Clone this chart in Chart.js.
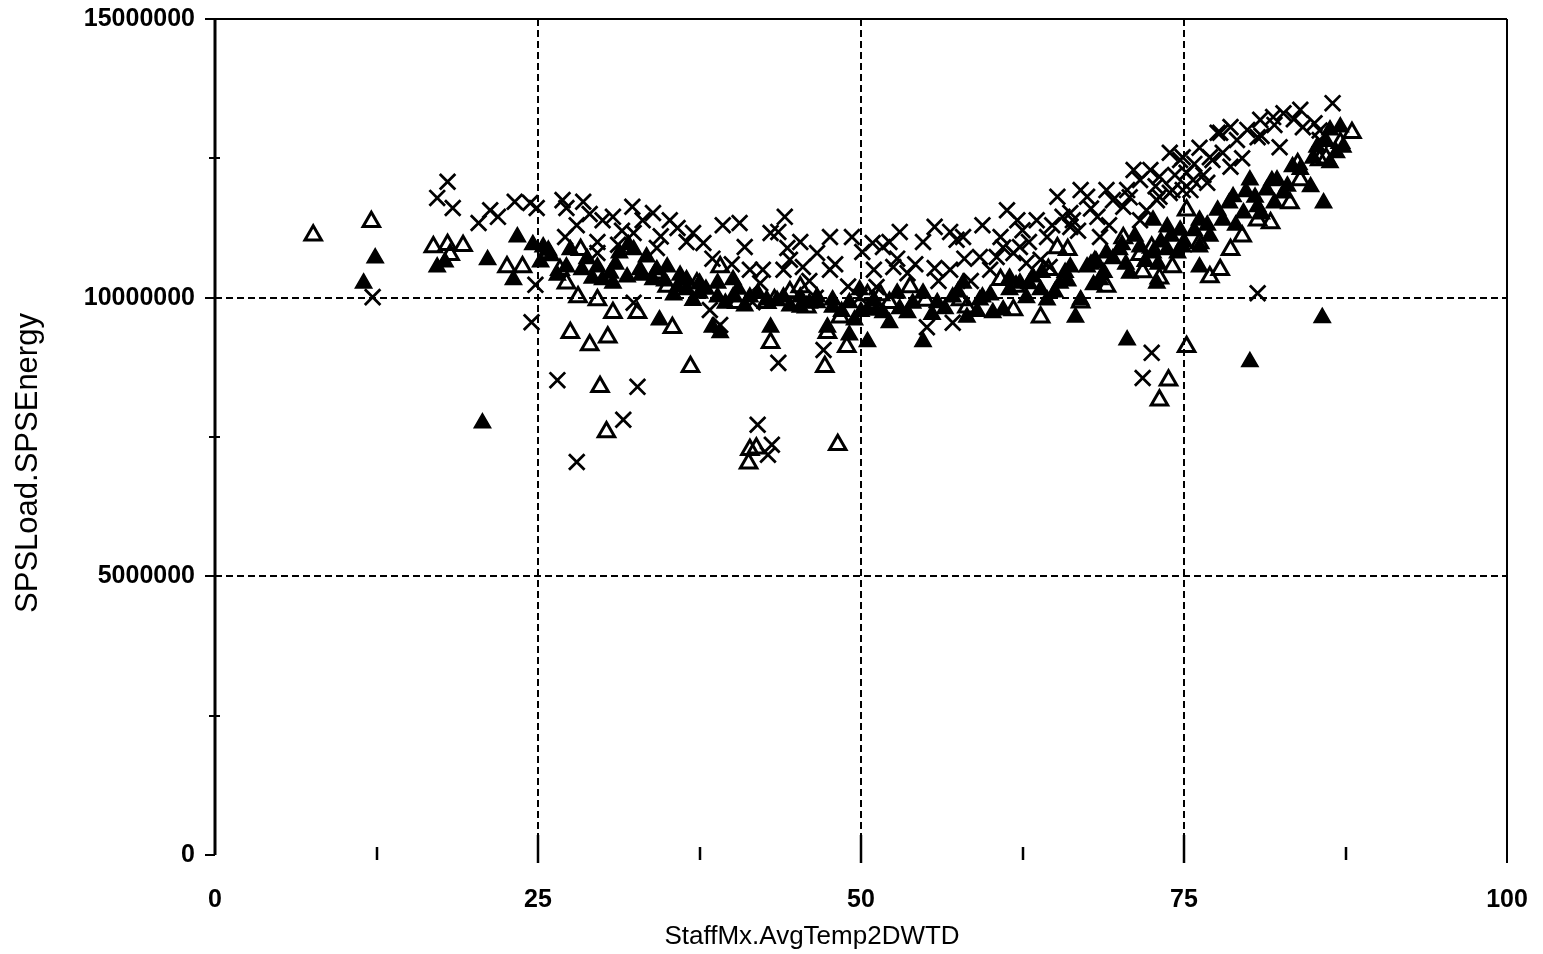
<!DOCTYPE html>
<html>
<head>
<meta charset="utf-8">
<script src="https://cdn.jsdelivr.net/npm/chart.js@4.4.0/dist/chart.umd.min.js"></script>
<style>
  html, body { margin: 0; padding: 0; background: #fff; }
  #wrap { width: 1543px; height: 954px; position: relative; }
</style>
</head>
<body>
<div id="wrap"><canvas id="scatterChart"></canvas></div>
<script>
// points (x = StaffMx.AvgTemp2DWTD, y = SPSLoad.SPSEnergy)

// open triangles
const openX = [7.6, 12.1, 16.9, 18.0, 18.2, 19.2, 22.6, 23.8, 26.7, 27.2, 27.5, 28.1, 28.3, 29.0, 29.6, 29.8, 30.3, 30.4, 30.8, 32.7,
    34.1, 35.4, 36.8, 37.3, 39.1, 40.4, 41.3, 41.4, 41.9, 42.7, 43.0, 43.3, 45.3, 45.8, 47.2, 47.4, 48.2, 48.4, 48.9, 51.5,
    52.2, 53.8, 57.7, 58.2, 60.8, 61.8, 63.9, 65.2, 66.0, 67.0, 68.1, 70.3, 71.6, 71.8, 73.1, 73.1, 73.8, 74.1, 75.2, 75.2,
    76.2, 77.0, 77.8, 78.6, 80.7, 81.7, 83.2, 84.0, 85.5, 87.1, 88.0,
    35.0, 44.5, 50.5, 55.0, 62.0, 64.5, 69.0, 72.5, 79.5, 83.8, 86.0];
const openY = [11120000, 11360000, 10910000, 10950000, 10770000, 10930000, 10550000, 10550000, 10500000, 10260000, 9370000, 10010000, 10860000, 9150000, 9960000, 8400000, 7590000, 9290000, 9730000, 9730000,
    10440000, 9460000, 8760000, 10260000, 10550000, 9910000, 7030000, 7270000, 7300000, 9910000, 9190000, 9960000, 10190000, 9830000, 8760000, 9370000, 7360000, 9650000, 9120000, 10050000,
    9910000, 10190000, 9960000, 9830000, 10320000, 9780000, 9650000, 10890000, 10860000, 9920000, 10640000, 11070000, 10770000, 10460000, 10350000, 8160000, 8520000, 10550000, 11570000, 9120000,
    10980000, 10370000, 10500000, 10860000, 11390000, 11340000, 11700000, 12110000, 12470000, 12780000, 12960000,
    10200000, 10100000, 10050000, 9950000, 10200000, 10500000, 10200000, 10900000, 11100000, 12400000, 12500000];

// filled triangles
const filledX = [11.5, 12.4, 17.2, 17.8, 20.7, 21.1, 23.1, 23.4, 25.4, 25.2, 27.2, 27.5, 28.4, 29.6, 30.0, 30.6, 30.8, 31.3, 31.9, 32.4,
    32.9, 33.4, 33.9, 34.2, 34.4, 35.0, 35.8, 36.5, 36.5, 37.5, 37.5, 38.5, 38.9, 38.9, 39.1, 40.1, 40.1, 41.4, 42.0, 42.7,
    43.0, 44.0, 45.3, 45.3, 46.6, 46.6, 47.4, 47.8, 47.8, 49.1, 49.1, 49.9, 50.5, 50.5, 51.2, 51.7, 52.2, 52.8, 53.6, 54.8,
    54.8, 55.9, 57.1, 57.9, 58.2, 59.2, 59.4, 60.2, 61.0, 61.5, 62.3, 63.3, 63.9, 64.4, 65.4, 66.2, 66.6, 67.0, 67.5, 68.0,
    68.5, 69.0, 70.0, 70.6, 70.8, 71.6, 72.6, 72.6, 72.9, 73.7, 73.7, 74.5, 74.7, 74.9, 76.2, 76.2, 76.2, 77.6, 78.0, 78.8,
    79.6, 80.1, 80.1, 80.7, 81.4, 82.2, 82.7, 83.4, 84.8, 85.3, 85.7, 85.8, 86.3, 86.3, 87.1, 87.3,
    26.0, 26.5, 28.8, 29.2, 31.0, 32.0, 33.0, 34.8, 35.5, 36.0, 37.0, 38.0, 39.5, 40.5, 41.0, 43.5, 44.5, 46.0, 48.5, 49.5,
    50.0, 51.0, 53.0, 54.0, 55.5, 56.5, 57.5, 59.0, 60.0, 61.5, 62.8, 64.0, 65.0, 66.0, 67.8, 68.8, 69.5, 70.5, 71.2, 72.0,
    73.2, 74.0, 75.0, 75.8, 77.0, 78.5, 79.0, 80.5, 81.0, 82.0, 83.0, 84.0, 85.0, 86.0, 86.8,
    24.6, 25.8, 63.0, 65.8, 68.2, 70.2, 73.0, 76.8, 79.8, 81.8];
const filledY = [10260000, 10710000, 10550000, 10640000, 7750000, 10680000, 10320000, 11090000, 10910000, 10640000, 10550000, 10860000, 10500000, 10550000, 10320000, 10440000, 10260000, 10800000, 10370000, 10860000,
    10500000, 10730000, 10320000, 10500000, 9600000, 10550000, 10190000, 10320000, 10140000, 10260000, 10080000, 9470000, 10260000, 10010000, 9370000, 10320000, 10010000, 10010000, 10080000, 9960000,
    9470000, 10010000, 10010000, 9830000, 10010000, 9910000, 9470000, 9960000, 9830000, 9910000, 9330000, 10140000, 9780000, 9210000, 9780000, 9730000, 9550000, 10080000, 9730000, 10080000,
    9210000, 9910000, 10010000, 10260000, 9650000, 9960000, 10010000, 9730000, 9780000, 10140000, 10260000, 10370000, 10140000, 9960000, 10260000, 10550000, 9650000, 9960000, 10550000, 10230000,
    10320000, 10800000, 10860000, 9240000, 10440000, 10910000, 11390000, 10800000, 10260000, 11270000, 10860000, 10800000, 11210000, 10910000, 11390000, 10910000, 10550000, 11570000, 11390000, 11810000,
    11520000, 12110000, 8850000, 11630000, 11930000, 12110000, 11880000, 12350000, 11990000, 12700000, 9640000, 11700000, 13010000, 12420000, 13060000, 12700000,
    10750000, 10400000, 10700000, 10350000, 10600000, 10950000, 10400000, 10300000, 10050000, 10400000, 9950000, 10150000, 9900000, 10150000, 9850000, 9950000, 9850000, 9900000, 9750000, 9600000,
    9750000, 9950000, 9800000, 9900000, 9700000, 9800000, 10100000, 9750000, 10050000, 10350000, 10000000, 10450000, 10100000, 10300000, 10600000, 10450000, 10700000, 10600000, 11100000, 10650000,
    11000000, 11100000, 11000000, 11200000, 11100000, 11700000, 11300000, 11800000, 11500000, 11700000, 12000000, 12300000, 12500000, 12800000, 12600000,
    10950000, 10850000, 10250000, 10450000, 10650000, 10950000, 10600000, 11300000, 11900000, 12100000];

// crosses
const crossX = [12.2, 17.2, 18.0, 18.4, 20.4, 21.3, 21.9, 23.2, 24.4, 24.9, 26.9, 27.2, 28.5, 27.1, 24.8, 24.5, 26.5, 28.0, 29.6, 29.6,
    30.0, 30.8, 31.2, 31.6, 32.3, 32.4, 32.4, 32.7, 33.1, 33.9, 34.2, 35.2, 35.8, 37.0, 37.8, 38.3, 39.1, 39.3, 40.6, 41.0,
    41.4, 41.6, 42.0, 42.2, 42.4, 42.8, 43.0, 43.1, 43.6, 43.6, 44.1, 44.3, 44.5, 45.3, 45.5, 46.6, 47.1, 47.6, 47.6, 49.3,
    49.9, 50.1, 50.9, 51.2, 51.7, 52.2, 52.5, 53.0, 53.6, 54.8, 55.1, 55.7, 55.7, 56.9, 56.9, 57.1, 57.4, 57.9, 59.2, 59.4,
    60.5, 60.8, 61.3, 61.8, 62.1, 62.3, 62.5, 62.8, 63.6, 63.9, 64.4, 64.6, 65.2, 65.6, 66.2, 66.2, 66.4, 67.0, 67.5, 68.3,
    68.5, 69.0, 69.5, 70.3, 70.6, 71.1, 71.6, 71.6, 72.1, 72.4, 71.8, 72.5, 73.1, 73.1, 73.9, 74.1, 74.7, 75.2, 75.5, 76.2,
    77.2, 77.6, 78.6, 77.8, 79.1, 79.9, 80.7, 80.9, 80.7, 82.4, 82.7, 84.0, 84.2, 86.5, 74.9, 73.9, 72.9, 74.9, 76.8, 78.6,
    77.0, 75.7, 81.9, 85.1, 85.5,
    28.0, 29.0, 31.5, 34.5, 36.5, 38.5, 40.0, 44.0, 46.0, 48.0, 49.0, 46.5, 51.0, 52.8, 54.2, 56.0, 58.5, 58.0, 60.0, 61.0,
    63.0, 64.8, 66.8, 67.8, 69.2, 70.8, 72.8, 74.3, 75.8, 76.5, 78.0, 79.5, 81.0, 82.0, 83.5, 85.5];
const crossY = [10010000, 11790000, 12080000, 11610000, 11340000, 11570000, 11450000, 11720000, 11700000, 11610000, 11750000, 11610000, 11720000, 11090000, 10230000, 9560000, 8520000, 7050000, 11000000, 10800000,
    11390000, 11450000, 10950000, 7810000, 11630000, 11160000, 9910000, 8400000, 11390000, 11520000, 10890000, 11390000, 11250000, 11160000, 10980000, 9780000, 9510000, 11300000, 11340000, 10910000,
    10500000, 9920000, 7720000, 10260000, 10500000, 7180000, 11160000, 7360000, 8830000, 11180000, 11450000, 10890000, 10680000, 11000000, 10550000, 10800000, 9060000, 11090000, 10500000, 11090000,
    10010000, 10820000, 10980000, 10190000, 10910000, 11000000, 10550000, 11180000, 10440000, 11000000, 9470000, 11270000, 10530000, 11180000, 10500000, 9550000, 11040000, 11090000, 10730000, 11300000,
    10730000, 11090000, 11570000, 10800000, 11390000, 10910000, 11210000, 10620000, 11390000, 10680000, 11090000, 10550000, 11810000, 11450000, 11520000, 11270000, 11390000, 11930000, 11810000, 11450000,
    11090000, 11930000, 11750000, 11630000, 11930000, 12290000, 12110000, 11390000, 11570000, 12290000, 8560000, 9010000, 12170000, 11810000, 12600000, 11930000, 12470000, 12240000, 11930000, 12690000,
    12470000, 12960000, 13060000, 12960000, 12830000, 13010000, 12880000, 13190000, 10080000, 12700000, 13310000, 13370000, 13060000, 13490000, 12520000, 11880000, 11750000, 11930000, 12060000, 12350000,
    12520000, 12110000, 13240000, 13130000, 12830000,
    11300000, 11500000, 11200000, 11100000, 11000000, 10700000, 10600000, 10500000, 10300000, 10600000, 10200000, 10000000, 10500000, 10700000, 10600000, 10300000, 10300000, 10700000, 10500000, 10900000,
    11000000, 11300000, 11200000, 11600000, 11300000, 11800000, 12000000, 12200000, 12400000, 12200000, 12600000, 12500000, 12900000, 13100000, 13200000, 13000000];

// axes
const xTickValues = [0, 25, 50, 75, 100];
const yTickValues = [0, 5000000, 10000000, 15000000];
const xGridValues = [25, 50, 75];
const yGridValues = [5000000, 10000000];
const xMinorValues = [12.5, 37.5, 62.5, 87.5];
const yMinorValues = [2500000, 7500000, 12500000];
const xTitle = 'StaffMx.AvgTemp2DWTD';
const yTitle = 'SPSLoad.SPSEnergy';

const fontFamily = '"Liberation Sans", Arial, sans-serif';

function toPoints(xs, ys) {
    return xs.map((x, i) => ({ x: x, y: ys[i] }));
}

function line(ctx, x1, y1, x2, y2) {
    ctx.beginPath();
    ctx.moveTo(x1, y1);
    ctx.lineTo(x2, y2);
    ctx.stroke();
}

// dashed grid, frame, tick marks and axis titles, like the old plot
const framePlugin = {
    id: 'frame',
    beforeDatasetsDraw(chart) {
        const ctx = chart.ctx;
        const sx = chart.scales.x;
        const sy = chart.scales.y;
        const a = chart.chartArea;
        ctx.save();
        ctx.strokeStyle = '#000';

        ctx.lineWidth = 2;
        ctx.setLineDash([7, 4]);
        xGridValues.forEach(v => {
            const px = Math.round(sx.getPixelForValue(v));
            line(ctx, px, a.top, px, a.bottom - 18);
        });
        yGridValues.forEach(v => {
            const py = Math.round(sy.getPixelForValue(v));
            line(ctx, a.left, py, a.right, py);
        });
        ctx.setLineDash([]);

        // x tick marks
        ctx.lineWidth = 2.5;
        xGridValues.forEach(v => {
            const px = Math.round(sx.getPixelForValue(v));
            line(ctx, px, a.bottom - 20, px, a.bottom + 8);
        });
        xMinorValues.forEach(v => {
            const px = Math.round(sx.getPixelForValue(v));
            line(ctx, px, a.bottom - 8, px, a.bottom + 5);
        });

        // y tick marks
        ctx.lineWidth = 2;
        yTickValues.forEach(v => {
            const py = Math.round(sy.getPixelForValue(v));
            line(ctx, a.left - 10, py, a.left, py);
        });
        yMinorValues.forEach(v => {
            const py = Math.round(sy.getPixelForValue(v));
            line(ctx, a.left - 6, py, a.left + 5, py);
        });

        // frame: left axis, top and right side, no bottom line
        ctx.lineWidth = 3;
        line(ctx, a.left, a.top, a.left, a.bottom);
        ctx.lineWidth = 2;
        line(ctx, a.left, a.top, a.right, a.top);
        line(ctx, a.right, a.top, a.right, a.bottom + 8);
        ctx.restore();
    },
    afterDraw(chart) {
        const ctx = chart.ctx;
        ctx.save();
        ctx.fillStyle = '#000';
        ctx.textAlign = 'center';
        ctx.textBaseline = 'middle';
        ctx.font = '26px ' + fontFamily;
        ctx.fillText(xTitle, 812, 937);
        ctx.translate(28, 463);
        ctx.rotate(-Math.PI / 2);
        ctx.font = '31px ' + fontFamily;
        ctx.fillText(yTitle, 0, 0);
        ctx.restore();
    }
};

const ctx = document.getElementById('scatterChart').getContext('2d');

new Chart(ctx, {
    type: 'scatter',
    data: {
        datasets: [
            {
                label: 'filled',
                data: toPoints(filledX, filledY),
                pointStyle: 'triangle',
                radius: 9.5,
                backgroundColor: '#000',
                borderColor: '#000',
                borderWidth: 1.5
            },
            {
                label: 'open',
                data: toPoints(openX, openY),
                pointStyle: 'triangle',
                radius: 9.5,
                backgroundColor: 'rgba(0,0,0,0)',
                borderColor: '#000',
                borderWidth: 3
            },
            {
                label: 'cross',
                data: toPoints(crossX, crossY),
                pointStyle: 'crossRot',
                radius: 11,
                backgroundColor: '#000',
                borderColor: '#000',
                borderWidth: 2.8
            }
        ]
    },
    options: {
        responsive: true,
        maintainAspectRatio: false,
        animation: false,
        events: [],
        layout: { padding: { top: 19, right: 36, left: 0, bottom: 0 } },
        plugins: {
            legend: { display: false },
            tooltip: { enabled: false }
        },
        scales: {
            x: {
                type: 'linear',
                min: 0,
                max: 100,
                grid: { display: false, drawTicks: false },
                border: { display: false },
                afterFit: scale => {
                    scale.height = 99;
                    scale.paddingLeft = 0;
                    scale.paddingRight = 0;
                },
                afterBuildTicks: scale => { scale.ticks = xTickValues.map(v => ({ value: v })); },
                ticks: {
                    padding: 30,
                    color: '#000',
                    font: { family: fontFamily, size: 25, weight: 'bold' },
                    callback: v => String(v)
                }
            },
            y: {
                type: 'linear',
                min: 0,
                max: 15000000,
                grid: { display: false, drawTicks: false },
                border: { display: false },
                afterFit: scale => {
                    scale.width = 215;
                    scale.paddingTop = 0;
                    scale.paddingBottom = 0;
                },
                afterBuildTicks: scale => { scale.ticks = yTickValues.map(v => ({ value: v })); },
                ticks: {
                    padding: 20,
                    color: '#000',
                    font: { family: fontFamily, size: 25, weight: 'bold' },
                    callback: v => String(v)
                }
            }
        }
    },
    plugins: [framePlugin]
});
</script>
</body>
</html>
